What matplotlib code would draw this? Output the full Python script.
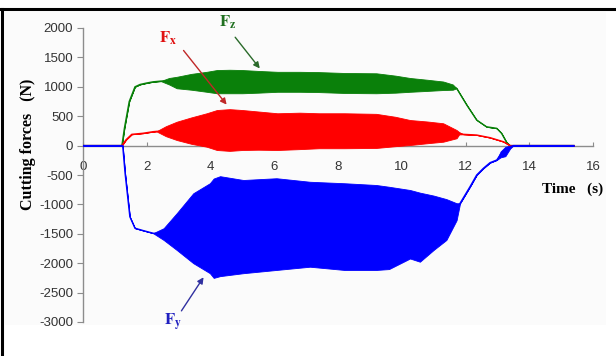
import matplotlib
matplotlib.use("Agg")
import matplotlib.pyplot as plt
import numpy as np
from matplotlib.lines import Line2D
from matplotlib.patches import Rectangle

plt.rcParams["axes.unicode_minus"] = False
plt.rcParams["mathtext.fontset"] = "stix"

# ---- data: time (s) and upper / lower envelope (N) ----
fz_t = [0, 1.22, 1.30, 1.45, 1.63, 1.79, 2.0, 2.2, 2.45, 2.7, 2.94, 3.4, 3.88, 4.2, 4.6, 5.0, 5.5,
        6.1, 6.8, 7.4, 8.2, 9.2, 9.8, 10.26, 10.8, 11.3, 11.6, 11.72, 12.04, 12.35, 12.66, 12.98,
        13.13, 13.29, 13.4, 15.4]
fz_hi = [0, 0, 300, 750, 1000, 1040, 1065, 1085, 1100, 1150, 1170, 1220, 1255, 1285, 1290, 1285,
         1270, 1255, 1255, 1250, 1235, 1230, 1190, 1150, 1120, 1090, 1040, 975, 690, 435, 320, 294,
         210, 55, 0, 0]
fz_lo = [0, 0, 300, 750, 1000, 1040, 1065, 1085, 1095, 1040, 975, 950, 915, 890, 890, 890, 900,
         915, 915, 910, 895, 890, 900, 915, 930, 945, 950, 975, 690, 435, 320, 294, 210, 55, 0, 0]

fx_t = [0, 1.22, 1.35, 1.53, 1.88, 2.2, 2.31, 2.6, 2.94, 3.4, 3.88, 4.2, 4.6, 5.0, 5.5, 6.1, 6.8,
        7.4, 8.2, 9.2, 9.8, 10.26, 10.8, 11.3, 11.72, 11.8, 11.93, 12.35, 12.77, 13.19, 13.4, 15.4]
fx_hi = [0, 0, 100, 192, 210, 237, 245, 330, 406, 480, 550, 605, 620, 605, 580, 550, 560, 550, 550,
         540, 490, 435, 410, 380, 265, 230, 192, 180, 135, 66, 0, 0]
fx_lo = [0, 0, 100, 192, 210, 237, 240, 160, 95, 30, -19, -75, -90, -75, -70, -75, -60, -45, -45,
         -40, -10, 10, 40, 66, 125, 190, 192, 180, 135, 66, 0, 0]

fy_t = [0, 1.245, 1.32, 1.47, 1.63, 1.89, 2.2, 2.53, 2.94, 3.46, 3.98, 4.1, 4.3, 5.03, 6.07, 7.12,
        8.2, 9.2, 9.6, 10.26, 10.57, 11.0, 11.4, 11.72, 11.83, 12.14, 12.35, 12.56, 12.77, 12.98,
        13.1, 13.25, 13.4, 13.5, 15.4]
fy_hi = [0, 0, -470, -1210, -1405, -1445, -1490, -1405, -1150, -810, -640, -560, -520, -585, -555,
         -615, -640, -670, -700, -755, -800, -850, -910, -980, -980, -700, -500, -386, -290, -245,
         -100, -20, 0, 0, 0]
fy_lo = [0, 0, -470, -1210, -1405, -1445, -1490, -1605, -1775, -2000, -2170, -2250, -2220, -2170,
         -2115, -2060, -2115, -2115, -2100, -1920, -1975, -1775, -1605, -1270, -980, -700, -500,
         -386, -290, -245, -200, -180, -50, 0, 0]

xticks = [0, 2, 4, 6, 8, 10, 12, 14, 16]
yticks = [2000, 1500, 1000, 500, 0, -500, -1000, -1500, -2000, -2500, -3000]

GREEN, RED, BLUE = "#0a800a", "#ff0000", "#0000ff"

fig = plt.figure(figsize=(6.16, 3.56), dpi=100)
fig.add_artist(Rectangle((0.008, 0.087), 0.975, 0.88, transform=fig.transFigure,
                         facecolor="#fbfbfb", edgecolor="none", zorder=-5))
ax = fig.add_axes([83 / 616, 1 - 322 / 356, 510 / 616, 294 / 356])
ax.patch.set_visible(False)

for t, hi, lo, c in [(fz_t, fz_hi, fz_lo, GREEN), (fx_t, fx_hi, fx_lo, RED), (fy_t, fy_hi, fy_lo, BLUE)]:
    t, hi, lo = np.array(t), np.array(hi), np.array(lo)
    ax.fill_between(t, lo, hi, color=c, linewidth=0.6, zorder=3)
    ax.plot(t, (hi + lo) / 2, color=c, linewidth=1.0, zorder=3)

ax.set_xlim(0, 16)
ax.set_ylim(-3000, 2000)
ax.spines["top"].set_visible(False)
ax.spines["right"].set_visible(False)
ax.spines["bottom"].set_position(("data", 0))
for s in ("left", "bottom"):
    ax.spines[s].set_color("#8c8c8c")
    ax.spines[s].set_linewidth(1.0)
ax.spines["bottom"].set_zorder(2)
ax.set_xticks(xticks)
ax.set_yticks(yticks)
ax.set_yticklabels([str(v) for v in yticks])
ax.tick_params(axis="x", direction="in", length=3, color="#8c8c8c", pad=11, labelsize=9.5,
               labelcolor="#333333")
ax.tick_params(axis="y", direction="out", length=4, color="#8c8c8c", pad=3, labelsize=9.5,
               labelcolor="#333333")
for lab in ax.get_xticklabels() + ax.get_yticklabels():
    lab.set_family("Liberation Sans")

fig.text(28 / 616, 1 - 144 / 356, "Cutting forces   (N)", rotation=90, ha="center", va="center",
         family="Liberation Serif", weight="bold", fontsize=11.5)
fig.text(573 / 616, 1 - 189 / 356, "Time   (s)", ha="center", va="center",
         family="Liberation Serif", weight="bold", fontsize=11)

# labels and arrows
ax.text(2.67, 1830, r"$\mathbf{F}_{\mathbf{x}}$", color="#e01010", fontsize=12, ha="center", va="center")
ax.text(4.55, 2100, r"$\mathbf{F}_{\mathbf{z}}$", color="#207020", fontsize=12, ha="center", va="center",
        clip_on=False)
ax.text(2.82, -3000, r"$\mathbf{F}_{\mathbf{y}}$", color="#2020c0", fontsize=12, ha="center", va="center",
        clip_on=False)
ax.annotate("", xy=(4.56, 660), xytext=(3.1, 1655),
            arrowprops=dict(arrowstyle="-|>", color="#c02828", lw=1.0, mutation_scale=9))
ax.annotate("", xy=(5.6, 1275), xytext=(4.72, 1880),
            arrowprops=dict(arrowstyle="-|>", color="#2a6a2a", lw=1.0, mutation_scale=9))
ax.annotate("", xy=(3.83, -2200), xytext=(3.04, -2850),
            arrowprops=dict(arrowstyle="-|>", color="#3030a0", lw=1.0, mutation_scale=9))

# frame lines of the original figure
fig.add_artist(Line2D([0, 1], [1 - 8.5 / 356] * 2, transform=fig.transFigure, color="black", lw=2.2))
fig.add_artist(Line2D([1.5 / 616] * 2, [0, 1 - 8.5 / 356], transform=fig.transFigure, color="black", lw=2.2))

fig.savefig("out.png", dpi=100)
